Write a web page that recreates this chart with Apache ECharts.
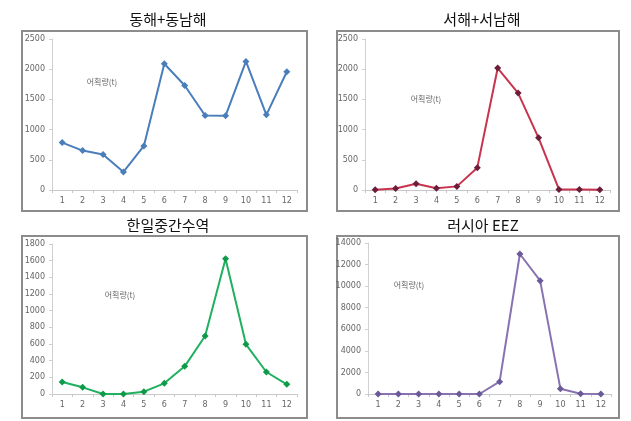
<!DOCTYPE html>
<html>
<head>
<meta charset="utf-8">
<script src="https://cdn.jsdelivr.net/npm/echarts@6/dist/echarts.min.js"></script>
<style>
  html, body { margin: 0; padding: 0; background: #fff; }
  #main { width: 631px; height: 421px; }
</style>
</head>
<body>
<div id="main"></div>
<script>
// 월 (카테고리)
const months = ["1", "2", "3", "4", "5", "6", "7", "8", "9", "10", "11", "12"];

// 해역별 어획량(t)
const eastSea = [785, 653, 586, 299, 730, 2090, 1731, 1233, 1228, 2129, 1244, 1958];
const westSea = [5, 25, 105, 28, 60, 370, 2019, 1604, 863, 10, 10, 5];
const koreaJapan = [144, 80, 0, 0, 28, 128, 332, 696, 1624, 596, 264, 116];
const russiaEez = [0, 0, 0, 0, 0, 0, 1143, 12980, 10507, 494, 20, 0];

const titles = ["동해+동남해", "서해+서남해", "한일중간수역", "러시아 EEZ"];
const unitLabel = "어획량(t)";

const chart = echarts.init(document.getElementById("main"));

// 패널 배치
const panels = [
  { box: [22, 31, 285, 180], grid: { left: 52, top: 39, width: 245, height: 151 }, titleX: 163, titleY: 7, unit: [102, 82],
    max: 2500, interval: 500, data: eastSea, line: "#4a7ebb", mark: "#4a7ebb" },
  { box: [337, 31, 282, 180], grid: { left: 365, top: 39, width: 245, height: 151 }, titleX: 477, titleY: 7, unit: [426, 99],
    max: 2500, interval: 500, data: westSea, line: "#c8344e", mark: "#6b1d3a" },
  { box: [22, 236, 285, 182], grid: { left: 52, top: 244, width: 245, height: 150 }, titleX: 163, titleY: 213, unit: [120, 295],
    max: 1800, interval: 200, data: koreaJapan, line: "#1fb060", mark: "#0f9a4a" },
  { box: [337, 236, 282, 182], grid: { left: 368, top: 243, width: 243, height: 151 }, titleX: 478, titleY: 213, unit: [409, 285],
    max: 14000, interval: 2000, data: russiaEez, line: "#8a72b0", mark: "#6a5a9a" }
];

const labelFont = { fontSize: 8, color: "#666", fontFamily: "DejaVu Sans" };

chart.setOption({
  animation: false,
  title: panels.map((p, i) => ({
    text: titles[i],
    left: p.titleX,
    top: p.titleY,
    textAlign: "center",
    textStyle: { fontSize: 15, fontWeight: "normal", color: "#111", fontFamily: "Noto Sans CJK KR" }
  })),
  grid: panels.map(p => p.grid),
  xAxis: panels.map((p, i) => ({
    type: "category",
    gridIndex: i,
    data: months,
    boundaryGap: true,
    axisLine: { lineStyle: { color: "#c8c8c8", width: 1 } },
    axisTick: { show: true, length: 3, lineStyle: { color: "#c8c8c8" } },
    axisLabel: Object.assign({ margin: 7 }, labelFont),
    splitLine: { show: false }
  })),
  yAxis: panels.map((p, i) => ({
    type: "value",
    gridIndex: i,
    min: 0,
    max: p.max,
    interval: p.interval,
    axisLine: { show: true, lineStyle: { color: "#d0d0d0", width: 1 } },
    axisTick: { show: true, length: 3, lineStyle: { color: "#d0d0d0" } },
    axisLabel: Object.assign({ margin: 7, formatter: v => String(v) }, labelFont),
    splitLine: { show: false }
  })),
  series: panels.map((p, i) => ({
    type: "line",
    xAxisIndex: i,
    yAxisIndex: i,
    data: p.data,
    symbol: "diamond",
    symbolSize: 7,
    lineStyle: { color: p.line, width: 2 },
    itemStyle: { color: p.mark, borderWidth: 0 }
  })),
  graphic: [].concat(
    panels.map(p => ({
      type: "rect",
      shape: { x: p.box[0], y: p.box[1], width: p.box[2], height: p.box[3] },
      style: { fill: "none", stroke: "#8c8c8c", lineWidth: 2 },
      z: -1
    })),
    panels.map(p => ({
      type: "text",
      x: p.unit[0],
      y: p.unit[1],
      style: { text: unitLabel, fontSize: 8, fill: "#666", fontFamily: "Noto Sans CJK KR", align: "center", verticalAlign: "middle" }
    }))
  )
});
</script>
</body>
</html>
